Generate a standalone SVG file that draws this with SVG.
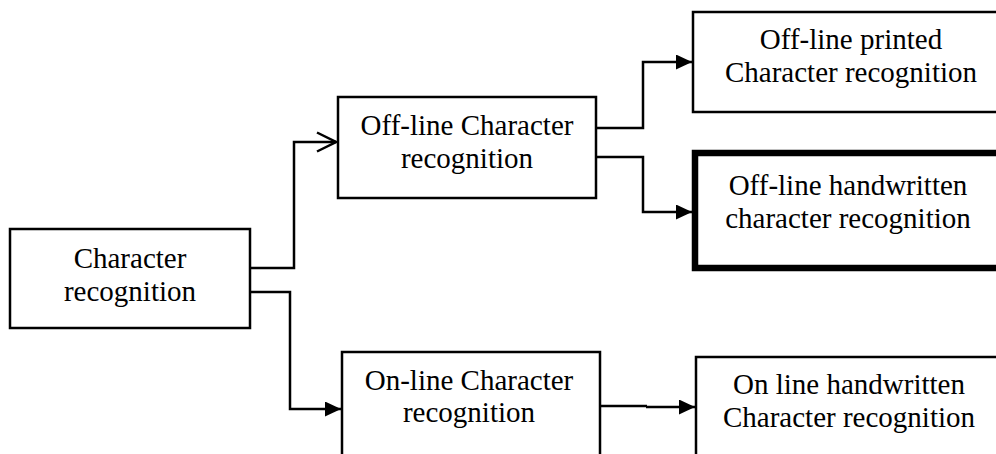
<svg xmlns="http://www.w3.org/2000/svg" width="996" height="454" viewBox="0 0 996 454">
<style>
.box{fill:#fff;stroke:#000;stroke-width:2.5}
.thick{fill:#fff;stroke:#000;stroke-width:6.5}
.lbl{font-family:"Liberation Serif","Times New Roman",serif;font-size:29px;fill:#000;text-anchor:middle}
.ln{fill:none;stroke:#000;stroke-width:2.5}
</style>
<defs>
<marker id="fa" markerUnits="userSpaceOnUse" markerWidth="17" markerHeight="16" refX="16" refY="7.5" orient="auto">
<path d="M0,0 L16,7.5 L0,15 z" fill="#000"/>
</marker>
<marker id="oa" markerUnits="userSpaceOnUse" markerWidth="22" markerHeight="24" refX="20" refY="11" orient="auto">
<path d="M1,1.5 L20,11 L1,20.5" fill="none" stroke="#000" stroke-width="2.5"/>
</marker>
</defs>
<rect width="996" height="454" fill="#fff"/>
<g id="connectors">
<path class="ln" d="M250,268 H294 V142 H336" marker-end="url(#oa)"/>
<path class="ln" d="M250,292 H290 V409 H341" marker-end="url(#fa)"/>
<path class="ln" d="M596,128 H643 V62 H692" marker-end="url(#fa)"/>
<path class="ln" d="M596,157 H643 V212 H692" marker-end="url(#fa)"/>
<path class="ln" d="M596,406 H647"/>
<path class="ln" d="M646,407 H695" marker-end="url(#fa)"/>
</g>
<g id="n1">
<rect class="box" x="10" y="229" width="240" height="99"/>
<text class="lbl" x="130" y="268">Character</text>
<text class="lbl" x="130" y="301">recognition</text>
</g>
<g id="n2">
<rect class="box" x="338" y="97" width="258" height="101"/>
<text class="lbl" x="467" y="135">Off-line Character</text>
<text class="lbl" x="467" y="168">recognition</text>
</g>
<g id="n3">
<rect class="box" x="693" y="12" width="320" height="100"/>
<text class="lbl" x="851" y="49">Off-line printed</text>
<text class="lbl" x="851" y="82">Character recognition</text>
</g>
<g id="n4">
<rect class="thick" x="695" y="153" width="320" height="115"/>
<text class="lbl" x="848" y="195">Off-line handwritten</text>
<text class="lbl" x="848" y="228">character recognition</text>
</g>
<g id="n5">
<rect class="box" x="342" y="352" width="258" height="120"/>
<text class="lbl" x="469" y="390">On-line Character</text>
<text class="lbl" x="469" y="422">recognition</text>
</g>
<g id="n6">
<rect class="box" x="696" y="357" width="320" height="120"/>
<text class="lbl" x="849" y="394">On line handwritten</text>
<text class="lbl" x="849" y="427">Character recognition</text>
</g>
</svg>
